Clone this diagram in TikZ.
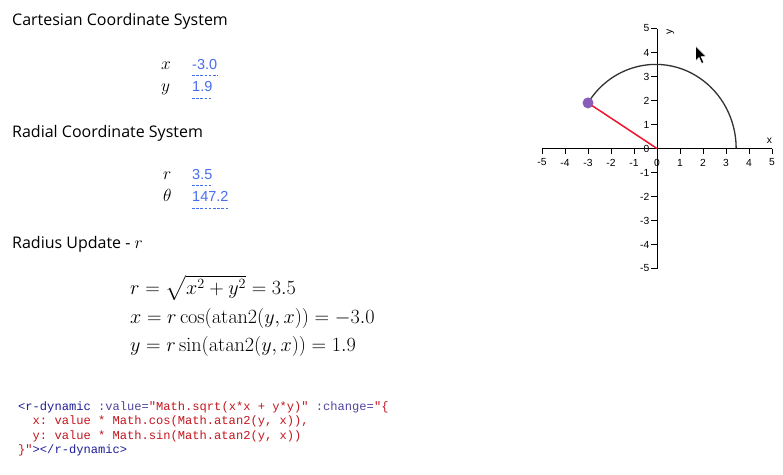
\RequirePackage{fix-cm}
\documentclass[tikz,border=0pt]{standalone}
\usepackage{amsmath}
\usepackage[no-math]{fontspec}
\setmainfont{Open Sans}
\newfontfamily\valfont{Liberation Sans}
\setmonofont{Liberation Mono}
\definecolor{valblue}{RGB}{72,108,240}
\definecolor{tagblue}{RGB}{30,30,150}
\definecolor{attrc}{RGB}{80,70,160}
\definecolor{strred}{RGB}{196,22,30}
\definecolor{dotpurple}{RGB}{136,92,184}
\definecolor{redl}{RGB}{240,20,45}
\definecolor{arcc}{RGB}{50,50,50}
\tikzset{
  heading/.style={anchor=base west, inner sep=0, font=\fontsize{16}{19}\selectfont},
  varlab/.style={anchor=base west, inner sep=0, font=\fontsize{17.5}{20}\selectfont},
  valtext/.style={anchor=base west, inner sep=0, text=valblue, font=\valfont\fontsize{14.5}{17}\selectfont},
  uline/.style={valblue, dash pattern=on 2.6pt off 1.6pt, line width=1pt},
  eqn/.style={anchor=base west, inner sep=0, font=\fontsize{20.2}{24}\selectfont},
  codeline/.style={anchor=base west, inner sep=0, font=\ttfamily\fontsize{12.1}{14}\selectfont},
  axisline/.style={black, line width=0.9pt},
  ticklab/.style={inner sep=0, font=\valfont\fontsize{10.3}{12}\selectfont},
  redline/.style={redl, line width=1.5pt},
  arcline/.style={arcc, line width=1.3pt}
}
\begin{document}
\begin{tikzpicture}[x=1pt,y=-1pt]
\useasboundingbox[fill=white] (0,0) rectangle (783,474);

% headings
\node[heading] (h1) at (12,25) {Cartesian Coordinate System};
\node[heading] (h2) at (12,137) {Radial Coordinate System};
\node[heading] (h3) at (12,248) {Radius Update - {\fontsize{17.5}{20}\selectfont$r$}};

% cartesian values
\node[varlab] (lx) at (161,69) {$x$};
\node[varlab] (ly) at (161,91) {$y$};
\node[valtext] (vx) at (192,69) {-3.0};
\node[valtext] (vy) at (192,91) {1.9};
\draw[uline] ([yshift=-6pt]vx.base west) -- ([yshift=-6pt]vx.base east);
\draw[uline] ([yshift=-7.5pt]vy.base west) -- ([yshift=-7.5pt]vy.base east);

% radial values
\node[varlab] (lr) at (163,179) {$r$};
\node[varlab] (lt) at (163,201) {$\theta$};
\node[valtext] (vr) at (192,179) {3.5};
\node[valtext] (vt) at (192,201) {147.2};
\draw[uline] ([yshift=-6pt]vr.base west) -- ([yshift=-6pt]vr.base east);
\draw[uline] ([yshift=-7.5pt]vt.base west) -- ([yshift=-7.5pt]vt.base east);

% equations
\node[eqn] (e1) at (130,294.5) {$r = \sqrt{x^2 + y^2} = 3.5$};
\node[eqn] (e2) at (130,323) {$x = r\cos(\operatorname{atan2}(y, x)) = -3.0$};
\node[eqn] (e3) at (130,351.5) {$y = r\sin(\operatorname{atan2}(y, x)) = 1.9$};

% code
\node[codeline] (c1) at (18,410) {{\color{tagblue}<r-dynamic}{\color{attrc}\ :value=}{\color{strred}"Math.sqrt(x*x + y*y)"}{\color{attrc}\ :change=}{\color{strred}"\{}};
\node[codeline] (c2) at (18,424.5) {{\color{strred}\ \ x: value * Math.cos(Math.atan2(y, x)),}};
\node[codeline] (c3) at (18,439) {{\color{strred}\ \ y: value * Math.sin(Math.atan2(y, x))}};
\node[codeline] (c4) at (18,453.5) {{\color{strred}\}"}{\color{tagblue}></r-dynamic>}};

% graph
\begin{scope}[shift={(657,148.5)}, x=23pt, y=24pt]
  \coordinate (O) at (0,0);
  \draw[axisline] (-5,0) -- (5,0);
  \draw[axisline] (0,-5) -- (0,5);
  \foreach \i in {-5,...,5} {
    \draw[axisline] (\i,0) -- ++(0pt,-5.5pt);
    \node[ticklab] (xt\i) at ([yshift=-14pt]\i,0) {\i};
    \draw[axisline] (0,\i) -- ++(-6pt,0pt);
    \node[ticklab, anchor=east] (yt\i) at ([xshift=-7.5pt]0,\i) {\i};
  }
  \coordinate (P0) at (-3,1.9);
  \draw[redline] (O) -- (P0);
  \draw[arcline] (P0) arc[start angle=147.2, end angle=0, radius=3.5];
  \node[circle, fill=dotpurple, inner sep=0, minimum size=11pt] (P) at (P0) {};
\end{scope}
\node[ticklab] (axx) at (769.5,141) {x};
\node[ticklab, rotate=90] (axy) at (670.5,32) {y};

% cursor
\fill[black, draw=white, line width=0.6pt] (695.5,46) -- ++(0,15) -- ++(3.5,-3.5) -- ++(2.6,6) -- ++(2.2,-1) -- ++(-2.6,-5.8) -- ++(5,0) -- cycle;
\end{tikzpicture}
\end{document}
